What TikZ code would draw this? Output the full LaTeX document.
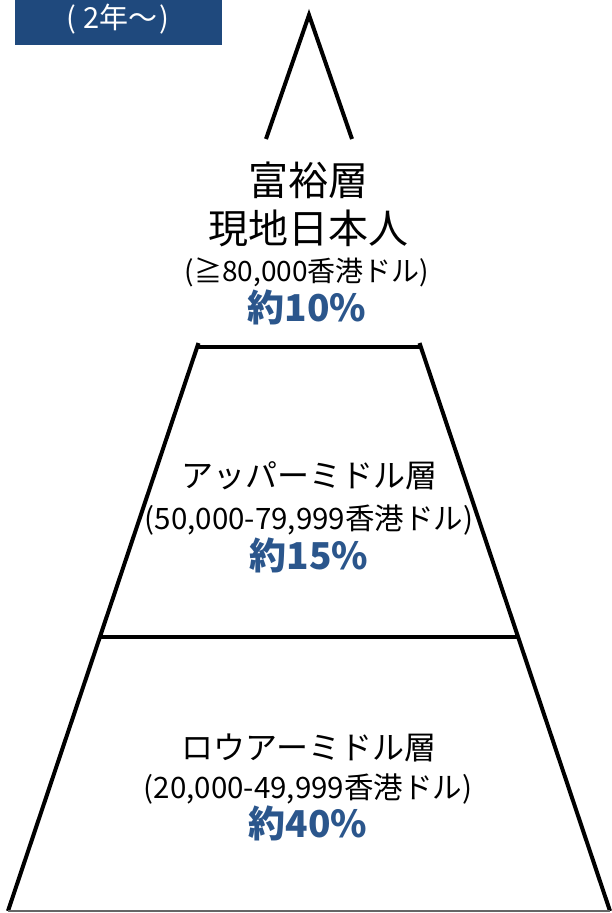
\documentclass[tikz,border=0pt]{standalone}
\usepackage{fontspec}
\setmainfont{Noto Sans CJK JP}
\definecolor{boxblue}{RGB}{31,73,125}
\definecolor{pctblue}{RGB}{43,86,140}
\begin{document}
\begin{tikzpicture}[x=1pt,y=-1pt,
  edgeline/.style={line width=4pt,line join=miter},
  lbltxt/.style={anchor=base,inner sep=0pt,text=black},
  tiertitle/.style={lbltxt,font=\fontsize{40}{48}\selectfont},
  tiersub/.style={lbltxt,font=\fontsize{32}{38}\selectfont},
  rangetxt/.style={lbltxt,font=\fontsize{29.5}{34}\selectfont},
  pcttxt/.style={lbltxt,font=\bfseries\fontsize{37}{42}\selectfont,text=pctblue}]
\useasboundingbox (0,0) rectangle (612,913);
% coordinates of the pyramid
\coordinate (apex) at (309,15);
\coordinate (tl) at (266,139);
\coordinate (tr) at (352,139);
\coordinate (ml) at (198.5,343);
\coordinate (mr) at (419.5,343);
\coordinate (al) at (197,347);
\coordinate (ar) at (421,347);
\coordinate (bl) at (100,637);
\coordinate (br) at (518,637);
\coordinate (fl) at (8,911);
\coordinate (fr) at (610,911);
% tag box
\node[fill=boxblue,minimum width=207pt,minimum height=45pt,inner sep=0pt,anchor=north west] (tag) at (15,0) {};
\node[anchor=center,inner sep=0pt,text=white,font=\fontsize{29}{32}\selectfont] (tagtext) at (118,19) {(\hspace{7pt}2年～\hspace{2pt})};
% pyramid outline
\draw[edgeline] (tl) -- (apex) -- (tr);
\draw[edgeline] (ml) -- (fl);
\draw[edgeline] (mr) -- (fr);
\draw[edgeline] (al) -- (ar);
\draw[edgeline] (bl) -- (br);
\draw[line width=1.5pt,color=black!60] (fl) -- (fr);
% top tier
\node[tiertitle] (t1) at (308,195) {富裕層};
\node[tiertitle] (t2) at (308,243) {現地日本人};
\node[lbltxt,font=\fontsize{28}{32}\selectfont] (t3) at (307,281) {(≧80,000香港ドル)};
\node[pcttxt] (t4) at (307,321) {約10\%};
% middle tier
\node[tiersub] (m1) at (309,487) {アッパーミドル層};
\node[rangetxt] (m2) at (309,529) {(50,000-79,999香港ドル)};
\node[pcttxt] (m3) at (309,569) {約15\%};
% bottom tier
\node[tiersub] (b1) at (309,759) {ロウアーミドル層};
\node[rangetxt] (b2) at (308,798) {(20,000-49,999香港ドル)};
\node[pcttxt] (b3) at (308,837) {約40\%};
\end{tikzpicture}
\end{document}
